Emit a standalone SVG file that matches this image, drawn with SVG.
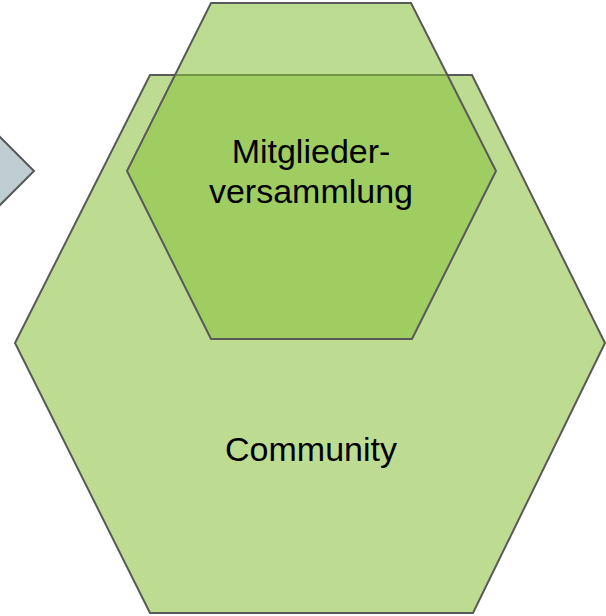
<svg xmlns="http://www.w3.org/2000/svg" width="606" height="616" viewBox="0 0 606 616">
<style>
.lbl{font-family:"Liberation Sans",Arial,sans-serif;font-size:34px;fill:#000;text-anchor:middle}
.edge{stroke:#595959;stroke-width:2;stroke-linejoin:miter}
</style>
<rect width="606" height="616" fill="#ffffff"/>
<g id="pointer">
<polygon class="edge" points="-34,171 0,137 34,171 0,205" fill="#c0ced2"/>
</g>
<g id="community">
<polygon class="edge" points="150,75 472,75 605,343 473,613 150,613 15,343" fill="#bddc92"/>
<text class="lbl" x="311" y="461">Community</text>
</g>
<g id="mitgliederversammlung">
<polygon points="211,3 411,3 496,171 412,339 211,339 127,171" fill="#88c13a" fill-opacity="0.56" stroke="#595959" stroke-width="2"/>
<text class="lbl" x="311" y="163">Mitglieder-</text>
<text class="lbl" x="311" y="203">versammlung</text>
</g>
<g id="connectors"/>
</svg>
